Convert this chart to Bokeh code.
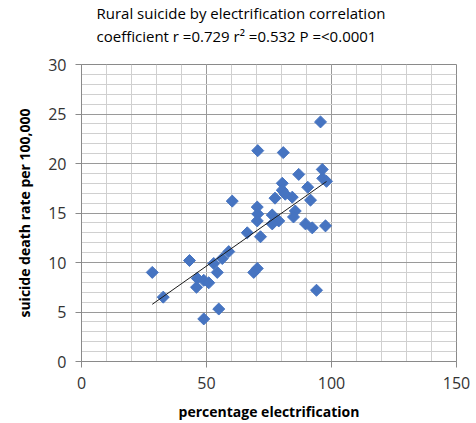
import numpy as np
from bokeh.plotting import figure
from bokeh.models import SingleIntervalTicker, Title, Range1d
from bokeh.embed import file_html
from bokeh.resources import INLINE

# data
electrification = [28.3, 32.7, 43.2, 46.3, 46.0, 48.9, 50.9, 48.9, 54.9, 54.3, 52.9,
                   56.3, 58.9, 60.3, 66.3, 70.5, 70.3, 70.5, 70.3, 71.6, 68.9, 70.3,
                   80.7, 95.6, 86.9, 96.3, 96.5, 98.0, 80.3, 80.3, 90.5, 91.6, 77.4,
                   81.5, 84.3, 85.5, 84.8, 76.3, 78.9, 76.3, 89.6, 92.3, 97.6, 94.0]
suicide_rate = [9.0, 6.5, 10.2, 8.4, 7.5, 8.2, 7.95, 4.3, 5.3, 9.0, 9.9,
                10.4, 11.1, 16.2, 13.0, 21.3, 15.6, 14.9, 14.2, 12.6, 9.0, 9.4,
                21.1, 24.2, 18.9, 19.4, 18.5, 18.2, 18.0, 17.3, 17.6, 16.3, 16.5,
                16.9, 16.6, 15.2, 14.6, 14.8, 14.2, 13.9, 13.9, 13.5, 13.7, 7.2]
title_line1 = "Rural suicide by electrification correlation"
title_line2 = "coefficient r =0.729 r\u00b2 =0.532 P =<0.0001"
x_label = "percentage electrification"
y_label = "suicide death rate per 100,000"

FONT = "Open Sans"

p = figure(width=476, height=423, output_backend="svg", toolbar_location=None,
           x_range=Range1d(0, 150), y_range=Range1d(0, 30),
           min_border_left=81, min_border_right=20, min_border_top=63,
           min_border_bottom=61, title=None)
p.background_fill_color = "white"
p.border_fill_color = "white"
p.outline_line_color = "#8a8a8a"

spacer = Title(text=" ", text_font=FONT, text_font_size="10px", standoff=2)
t2 = Title(text=title_line2, align="left", offset=15, text_font=FONT,
           text_font_size="15px", text_font_style="normal", text_color="#000000",
           standoff=1)
t1 = Title(text=title_line1, align="left", offset=15, text_font=FONT,
           text_font_size="15px", text_font_style="normal", text_color="#000000",
           standoff=1)
p.add_layout(spacer, "above")
p.add_layout(t2, "above")
p.add_layout(t1, "above")

p.xaxis.ticker = SingleIntervalTicker(interval=50, num_minor_ticks=5)
p.yaxis.ticker = SingleIntervalTicker(interval=5, num_minor_ticks=5)

for ax in (p.xaxis, p.yaxis):
    ax.axis_line_color = "#8a8a8a"
    ax.major_tick_line_color = "#8a8a8a"
    ax.major_tick_in = 0
    ax.major_tick_out = 6
    ax.minor_tick_line_color = None
    ax.major_label_text_font = FONT
    ax.major_label_text_font_size = "16px"
    ax.major_label_text_color = "#333333"
    ax.axis_label_text_font = FONT
    ax.axis_label_text_font_size = "14px"
    ax.axis_label_text_font_style = "bold"
    ax.axis_label_text_color = "#000000"

p.xaxis.axis_label = x_label
p.yaxis.axis_label = y_label
p.xaxis.major_label_standoff = 9
p.yaxis.major_label_standoff = 9
p.xaxis.axis_label_standoff = 10
p.yaxis.axis_label_standoff = 11

for g in (p.xgrid, p.ygrid):
    g.grid_line_color = "#9a9a9a"
    g.grid_line_width = 1
    g.minor_grid_line_color = "#d0d0d0"
    g.minor_grid_line_width = 1

p.scatter(electrification, suicide_rate, marker="square", size=8.5, angle=np.pi / 4,
          fill_color="#4674C1", line_color="#4674C1")

slope, intercept = np.polyfit(electrification, suicide_rate, 1)
xs = [min(electrification), max(electrification)]
p.line(xs, [slope * v + intercept for v in xs], line_color="#1a1a1a", line_width=1)

open("out.html", "w").write(file_html(p, INLINE))
